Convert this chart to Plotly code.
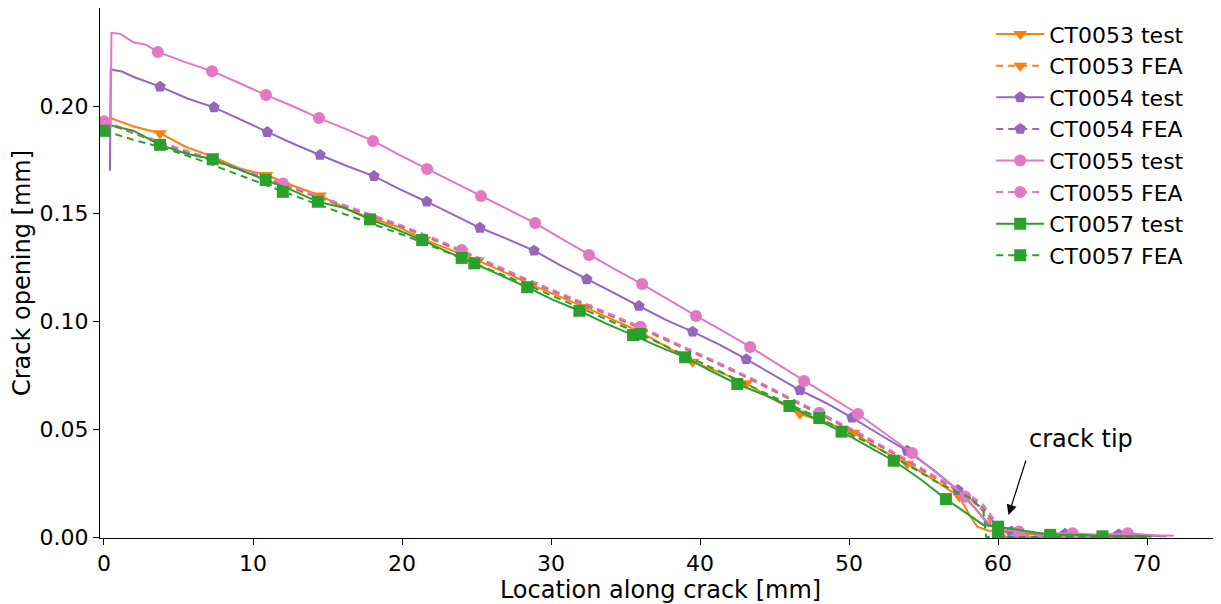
import plotly.graph_objects as go

# ---------------- data ----------------
ct0053_test_x = [0.40, 1.0, 2.0, 3.76, 5.5, 7.3, 9.1, 10.9, 12.7, 14.5, 16.2, 17.9, 19.7, 21.5, 23.3, 25.1,
                 26.9, 28.7, 30.5, 32.3, 34.1, 35.9, 37.7, 39.5, 41.3, 43.1, 44.9, 46.7, 48.5, 50.3, 52.1,
                 53.9, 55.7, 57.4, 58.1, 58.6, 59.3, 60.8, 62.6, 64.4, 66.2, 68.0, 69.8, 71.2]
ct0053_test_y = [0.1945, 0.1930, 0.1905, 0.1874, 0.1810, 0.1765, 0.1710, 0.1680, 0.1630, 0.1585, 0.1525,
                 0.1480, 0.1440, 0.1380, 0.1330, 0.1283, 0.1228, 0.1170, 0.1118, 0.1066, 0.1010, 0.0955,
                 0.0885, 0.0813, 0.0765, 0.0713, 0.0640, 0.0572, 0.0530, 0.0484, 0.0405, 0.0340, 0.0265,
                 0.0187, 0.0100, 0.0048, 0.0030, 0.0020, 0.0010, 0.0002, -0.0005, -0.0004, -0.0010, -0.0008]
ct0053_test_marks = list(range(3, 34, 2)) + [37, 39, 41]

ct0054_test_x = [0.40, 0.45, 1.2, 2.0, 3.76, 5.6, 7.38, 9.2, 10.96, 12.7, 14.5, 16.3, 18.12, 19.9, 21.66,
                 23.45, 25.23, 27.0, 28.86, 30.6, 32.4, 34.15, 35.9, 37.7, 39.5, 41.3, 43.1, 44.9, 46.7,
                 48.45, 50.2, 52.0, 53.9, 55.6, 57.3, 58.5, 59.3, 60.9, 62.7, 64.5, 66.3, 68.1, 69.9, 71.3]
ct0054_test_y = [0.170, 0.217, 0.216, 0.2135, 0.2090, 0.2035, 0.1994, 0.1935, 0.1879, 0.1825, 0.1773,
                 0.1722, 0.1675, 0.1612, 0.1556, 0.1495, 0.1435, 0.1385, 0.1329, 0.1262, 0.1196, 0.1135,
                 0.1072, 0.1008, 0.0953, 0.0893, 0.0825, 0.0752, 0.0682, 0.0622, 0.0554, 0.0478, 0.0400,
                 0.0315, 0.0218, 0.0130, 0.0060, 0.0025, 0.0015, 0.0015, 0.0008, 0.0012, 0.0006, 0.0004]
ct0054_test_marks = list(range(4, 35, 2)) + [37, 39, 41]

ct0055_test_x = [0.45, 0.50, 1.1, 2.0, 2.8, 3.62, 5.4, 7.25, 9.05, 10.87, 12.65, 14.43, 16.25, 18.05, 19.85,
                 21.68, 23.5, 25.3, 27.1, 28.93, 30.75, 32.55, 34.3, 36.11, 37.9, 39.73, 41.55, 43.36, 45.2,
                 46.98, 48.8, 50.6, 52.4, 54.23, 56.0, 57.8, 59.0, 59.8, 61.4, 63.2, 65.0, 66.8, 68.7, 70.5, 71.8]
ct0055_test_y = [0.190, 0.234, 0.2335, 0.2295, 0.2285, 0.2251, 0.2205, 0.2162, 0.2108, 0.2051, 0.2000,
                 0.1944, 0.1893, 0.1838, 0.1772, 0.1708, 0.1648, 0.1582, 0.1522, 0.1457, 0.1382, 0.1309,
                 0.1242, 0.1174, 0.1100, 0.1026, 0.0955, 0.0882, 0.0802, 0.0724, 0.0648, 0.0571, 0.0482,
                 0.0390, 0.0290, 0.0187, 0.0090, 0.0040, 0.0025, 0.0015, 0.0018, 0.0010, 0.0018, 0.0008, 0.0006]
ct0055_test_marks = list(range(5, 36, 2)) + [38, 40, 42]

ct0057_test_x = [0.5, 2.0, 3.76, 5.5, 7.3, 9.1, 10.85, 12.6, 14.35, 16.1, 17.85, 19.6, 21.35, 23.1, 24.85,
                 26.6, 28.4, 30.1, 31.9, 33.7, 35.5, 37.2, 39.0, 40.8, 42.5, 44.3, 46.0, 47.7, 49.5, 51.3,
                 53.0, 54.8, 56.5, 57.9, 59.0, 60.0, 61.8, 63.5, 65.3, 67.0, 68.8, 70.3]
ct0057_test_y = [0.1910, 0.1885, 0.1820, 0.1780, 0.1753, 0.1703, 0.1657, 0.1610, 0.1556, 0.1528, 0.1474,
                 0.1428, 0.1378, 0.1322, 0.1270, 0.1215, 0.1159, 0.1102, 0.1050, 0.0990, 0.0937, 0.0885,
                 0.0834, 0.0768, 0.0710, 0.0660, 0.0608, 0.0550, 0.0489, 0.0420, 0.0354, 0.0268, 0.0176,
                 0.0110, 0.0056, 0.0048, 0.0030, 0.0010, 0.0010, 0.0003, 0.0004, 0.0002]
ct0057_test_marks = list(range(2, 33, 2)) + [35, 37, 39]

fea_x = [0, 2, 4, 6, 8, 10, 12, 14, 16, 18, 20, 22, 24, 26, 28, 30, 32, 34, 36, 38, 40, 42, 44, 46, 48,
         50, 52, 54, 56, 57, 58, 59, 59.8, 60, 62, 64, 66, 68, 70]
ct0053_fea_y = [0.1925, 0.1873, 0.1820, 0.1774, 0.1730, 0.1682, 0.1633, 0.1584, 0.1535, 0.1487, 0.1438,
                0.1382, 0.1324, 0.1262, 0.1200, 0.1142, 0.1084, 0.1027, 0.0968, 0.0904, 0.0842, 0.0777,
                0.0710, 0.0640, 0.0569, 0.0500, 0.0424, 0.0347, 0.0264, 0.0225, 0.0185, 0.0120, 0.0040,
                0.0, 0.0, 0.0, 0.0, 0.0, 0.0]
ct0054_fea_y = [0.1928, 0.1877, 0.1824, 0.1778, 0.1734, 0.1686, 0.1637, 0.1588, 0.1539, 0.1491, 0.1442,
                0.1386, 0.1328, 0.1266, 0.1204, 0.1146, 0.1088, 0.1031, 0.0972, 0.0908, 0.0846, 0.0781,
                0.0714, 0.0644, 0.0573, 0.0504, 0.0428, 0.0351, 0.0268, 0.0230, 0.0192, 0.0135, 0.0060,
                0.0005, 0.0, 0.0, 0.0, 0.0, 0.0]
ct0055_fea_y = [0.1930, 0.1880, 0.1828, 0.1782, 0.1738, 0.1690, 0.1641, 0.1592, 0.1543, 0.1495, 0.1446,
                0.1390, 0.1332, 0.1270, 0.1208, 0.1150, 0.1092, 0.1035, 0.0976, 0.0912, 0.0850, 0.0785,
                0.0718, 0.0648, 0.0577, 0.0508, 0.0432, 0.0355, 0.0272, 0.0235, 0.0200, 0.0150, 0.0075,
                0.0010, 0.0005, 0.0, 0.0, 0.0, 0.0]
ct0057_fea_x = [0, 2, 4, 6, 8, 10, 12, 14, 16, 18, 20, 22, 24, 26, 28, 30, 32, 34, 36, 38, 40, 42, 44, 46, 48,
                50, 52, 54, 56, 57, 58, 59, 59.2, 60, 62, 64, 66, 68, 70]
ct0057_fea_y = [0.1885, 0.1843, 0.1805, 0.1760, 0.1708, 0.1656, 0.1602, 0.1552, 0.1502, 0.1452, 0.1404,
                0.1350, 0.1295, 0.1240, 0.1182, 0.1122, 0.1062, 0.1002, 0.0942, 0.0876, 0.0812, 0.0746,
                0.0680, 0.0615, 0.0552, 0.0482, 0.0410, 0.0332, 0.0250, 0.0218, 0.0185, 0.0128, 0.0,
                0.0, 0.0, 0.0, 0.0, 0.0, 0.0]
fea_marks = [0, 6, 12, 18, 24, 33]

x_ticks = [0, 10, 20, 30, 40, 50, 60, 70]
y_ticks = [0.00, 0.05, 0.10, 0.15, 0.20]

# ---------------- styling ----------------
FONT = "DejaVu Sans"
ORANGE, PURPLE, PINK, GREEN = "#ff7f0e", "#9467bd", "#e377c2", "#2ca02c"
DASH = "7px,5px"
MS = 12

series = [
    ("CT0053 test", ct0053_test_x, ct0053_test_y, ct0053_test_marks, ORANGE, "triangle-down", "solid"),
    ("CT0053 FEA", fea_x, ct0053_fea_y, fea_marks, ORANGE, "triangle-down", DASH),
    ("CT0054 test", ct0054_test_x, ct0054_test_y, ct0054_test_marks, PURPLE, "pentagon", "solid"),
    ("CT0054 FEA", fea_x, ct0054_fea_y, fea_marks, PURPLE, "pentagon", DASH),
    ("CT0055 test", ct0055_test_x, ct0055_test_y, ct0055_test_marks, PINK, "circle", "solid"),
    ("CT0055 FEA", fea_x, ct0055_fea_y, fea_marks, PINK, "circle", DASH),
    ("CT0057 test", ct0057_test_x, ct0057_test_y, ct0057_test_marks, GREEN, "square", "solid"),
    ("CT0057 FEA", ct0057_fea_x, ct0057_fea_y, fea_marks, GREEN, "square", DASH),
]

fig = go.Figure()
for name, xs, ys, marks, color, sym, dash in series:
    fig.add_trace(go.Scatter(x=xs, y=ys, mode="lines", name=name, showlegend=False,
                             line=dict(color=color, width=2, dash=dash)))
    fig.add_trace(go.Scatter(x=[xs[i] for i in marks], y=[ys[i] for i in marks], mode="markers",
                             showlegend=False, name=name,
                             marker=dict(color=color, symbol=sym, size=MS, line=dict(width=0))))
for name, xs, ys, marks, color, sym, dash in series:
    fig.add_trace(go.Scatter(x=[None], y=[None], mode="lines+markers", name=name,
                             line=dict(color=color, width=2, dash=dash),
                             marker=dict(color=color, symbol=sym, size=MS, line=dict(width=0))))

# annotation
fig.add_annotation(x=60.7, y=0.0102, ax=61.9, ay=0.0362, xref="x", yref="y", axref="x", ayref="y",
                   text="", showarrow=True, arrowhead=2, arrowsize=1.7, arrowwidth=1.2, arrowcolor="black")
fig.add_annotation(x=61.95, y=0.0455, xref="x", yref="y", text="crack tip", showarrow=False,
                   xanchor="left", yanchor="middle", font=dict(family=FONT, size=24, color="black"))

# the page body adds an 8px offset; the figure is sized/margined to compensate
fig.update_layout(
    width=1213, height=596,
    margin=dict(l=92, r=0, t=0, b=66, autoexpand=False),
    paper_bgcolor="white", plot_bgcolor="white",
    font=dict(family=FONT, size=22, color="black"),
    showlegend=True,
    legend=dict(x=0.795, y=0.99, xanchor="left", yanchor="top", bgcolor="rgba(0,0,0,0)",
                font=dict(family=FONT, size=22, color="black"), itemwidth=48, tracegroupgap=0),
    xaxis=dict(range=[-0.268, 74.96], tickvals=x_ticks, ticktext=[str(v) for v in x_ticks],
               showgrid=False, zeroline=False, showline=True, linecolor="black", linewidth=1,
               mirror=True, ticks="outside", ticklen=6, tickcolor="black", automargin=False,
               tickfont=dict(family=FONT, size=22),
               title=dict(text="Location along crack [mm]", font=dict(family=FONT, size=24), standoff=3)),
    yaxis=dict(range=[-0.00046, 0.2455], tickvals=y_ticks, ticktext=[f"{v:.2f}" for v in y_ticks],
               showgrid=False, zeroline=False, showline=True, linecolor="black", linewidth=1,
               mirror=False, ticks="outside", ticklen=6, tickcolor="black", automargin=False,
               tickfont=dict(family=FONT, size=22),
               title=dict(text="Crack opening [mm]", font=dict(family=FONT, size=24), standoff=8)),
)

fig.write_html("out.html")
